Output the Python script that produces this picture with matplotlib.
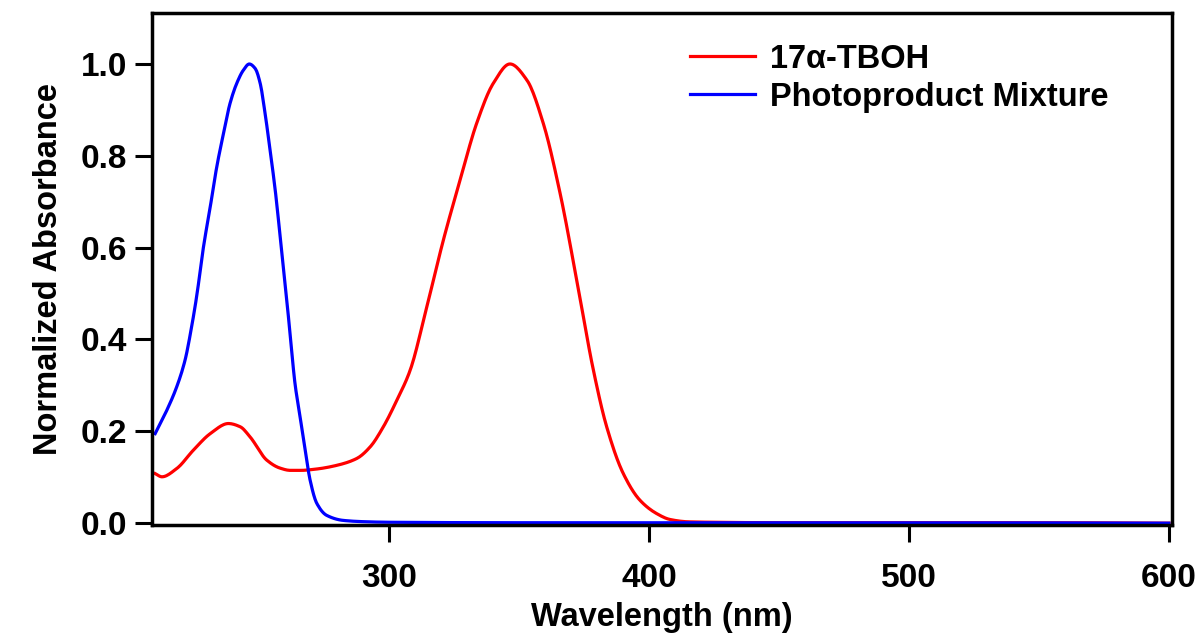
import matplotlib
matplotlib.use("Agg")
import matplotlib.pyplot as plt
import numpy as np

# values
tboh_nm = [210, 212.6, 218.3, 224.7, 231.2, 238.2, 242.7, 246.5, 253, 258, 262, 266,
           272.2, 279.9, 287.6, 292.7, 297.8, 303, 308.1, 314.5, 320.9, 327.3, 333.7, 340.1,
           346.5, 353, 359.3, 365.8, 372.2, 378.6, 383.7, 390.1, 396.5, 402.9, 408.1, 415,
           425, 450, 500, 550, 600]
tboh_abs = [0.108, 0.101, 0.119, 0.159, 0.195, 0.217, 0.210, 0.188, 0.137, 0.120, 0.115, 0.115,
            0.118, 0.126, 0.141, 0.166, 0.210, 0.268, 0.333, 0.471, 0.617, 0.747, 0.871, 0.958,
            1.0, 0.965, 0.871, 0.718, 0.529, 0.333, 0.210, 0.108, 0.050, 0.021, 0.008, 0.003,
            0.002, 0.001, 0.001, 0.001, 0.0]

photo_nm = [210, 214.5, 218.3, 221.5, 224.1, 226.0, 228.6, 231.2, 233.7, 236.3, 238.8, 241.4,
            244.0, 246.2, 248.5, 250.4, 252.3, 254.2, 256.2, 258.1, 260, 261.9, 263.8, 265.8,
            267.7, 269.6, 272.2, 276, 282.4, 291.4, 300, 350, 400, 500, 600]
photo_abs = [0.195, 0.246, 0.297, 0.355, 0.430, 0.495, 0.602, 0.689, 0.776, 0.849, 0.914, 0.958,
             0.987, 1.0, 0.990, 0.958, 0.892, 0.813, 0.725, 0.624, 0.522, 0.413, 0.304, 0.230,
             0.160, 0.094, 0.043, 0.017, 0.006, 0.003, 0.002, 0.001, 0.001, 0.001, 0.0]

labels = ["17\u03b1-TBOH", "Photoproduct Mixture"]
colors = ["#ff0000", "#0000ff"]


def pchip(xs, ys, n=800):
    # Fritsch-Carlson monotone cubic through the read points
    xs = np.asarray(xs, float)
    ys = np.asarray(ys, float)
    h = np.diff(xs)
    d = np.diff(ys) / h
    m = np.zeros_like(ys)
    for k in range(1, len(xs) - 1):
        if d[k-1] * d[k] > 0:
            w1 = 2*h[k] + h[k-1]
            w2 = h[k] + 2*h[k-1]
            m[k] = (w1 + w2) / (w1/d[k-1] + w2/d[k])
    m[0] = d[0]
    m[-1] = d[-1]
    xn = np.linspace(xs[0], xs[-1], n)
    idx = np.clip(np.searchsorted(xs, xn) - 1, 0, len(xs) - 2)
    hh = h[idx]
    t = (xn - xs[idx]) / hh
    h00 = 2*t**3 - 3*t**2 + 1
    h10 = t**3 - 2*t**2 + t
    h01 = -2*t**3 + 3*t**2
    h11 = t**3 - t**2
    yn = h00*ys[idx] + h10*hh*m[idx] + h01*ys[idx+1] + h11*hh*m[idx+1]
    return xn, yn


plt.rcParams['font.family'] = ['Liberation Sans', 'DejaVu Sans']
plt.rcParams['font.weight'] = 'bold'

fig = plt.figure(figsize=(11.99, 6.37), dpi=100)
ax = fig.add_axes([0.1268, 0.1758, 0.8507, 0.8038])

x, y = pchip(tboh_nm, tboh_abs)
ax.plot(x, y, color=colors[0], lw=2.3, label=labels[0])
x, y = pchip(photo_nm, photo_abs)
ax.plot(x, y, color=colors[1], lw=2.3, label=labels[1])

ax.set_xlim(208.8, 601.2)
ax.set_ylim(-0.004, 1.111)
ax.set_xticks([300, 400, 500, 600])
ax.set_yticks([0.0, 0.2, 0.4, 0.6, 0.8, 1.0])
ax.yaxis.set_major_formatter(matplotlib.ticker.FormatStrFormatter('%.1f'))

for s in ax.spines.values():
    s.set_linewidth(2.5)
ax.tick_params(axis='both', direction='out', length=12, width=2.2, labelsize=24)
ax.tick_params(axis='x', pad=15)
ax.tick_params(axis='y', pad=6)
for lab in ax.get_xticklabels() + ax.get_yticklabels():
    lab.set_fontweight('bold')

ax.set_xlabel("Wavelength (nm)", fontsize=23.5, fontweight='bold', labelpad=6)
ax.set_ylabel("Normalized Absorbance", fontsize=23.5, fontweight='bold', labelpad=12)

leg = ax.legend(loc='upper left', bbox_to_anchor=(0.527, 0.94), frameon=False,
                fontsize=23.5, handlelength=2.0, handletextpad=0.45, labelspacing=0.22,
                borderaxespad=0, borderpad=0)
for t in leg.get_texts():
    t.set_fontweight('bold')

fig.savefig("out.png", dpi=100)
